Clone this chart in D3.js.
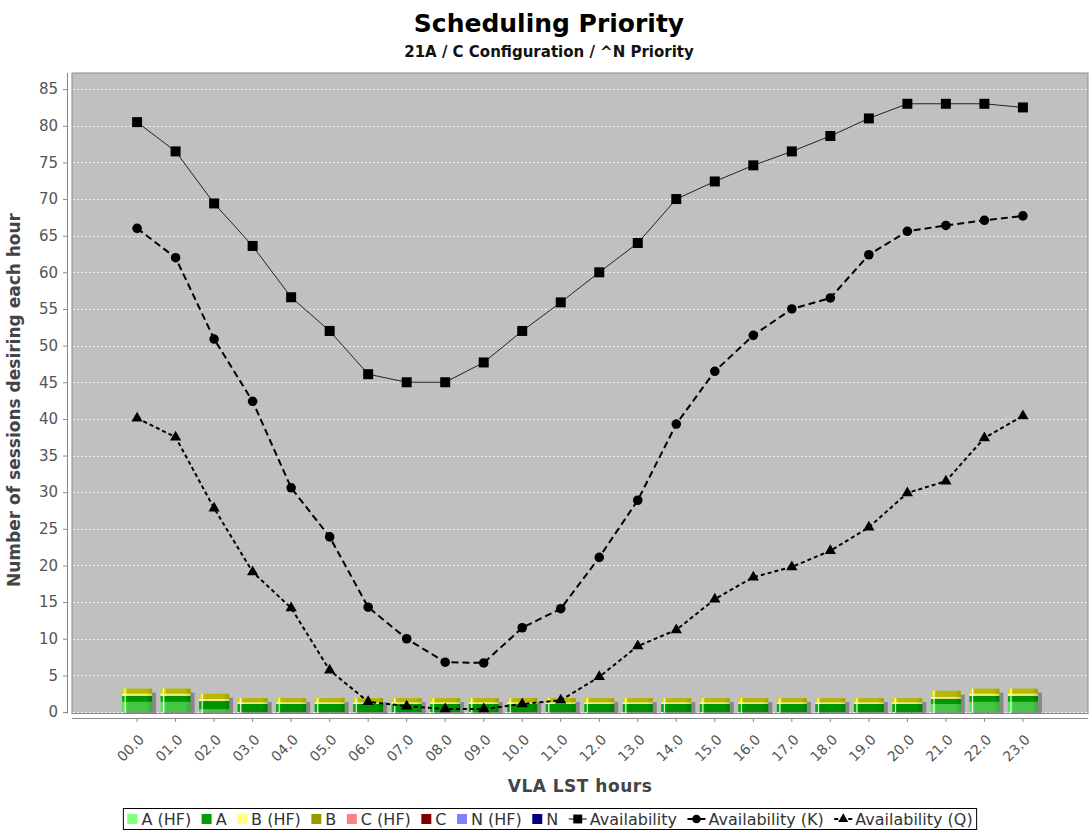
<!DOCTYPE html>
<html>
<head>
<meta charset="utf-8">
<script src="https://cdn.jsdelivr.net/npm/d3@7"></script>
<style>
  body { margin: 0; background: #fff; }
  text { font-family: "DejaVu Sans", sans-serif; }
</style>
</head>
<body>
<svg id="chart"></svg>
<script>
// categories
const hours = ['00.0','01.0','02.0','03.0','04.0','05.0','06.0','07.0','08.0','09.0','10.0','11.0',
               '12.0','13.0','14.0','15.0','16.0','17.0','18.0','19.0','20.0','21.0','22.0','23.0']

// stacked bar series (sessions per hour)
const aHF = [1.4,1.4,0.4,0,0,0,0,0,0,0,0,0,0,0,0,0,0,0,0,0,0,1.1,1.4,1.4]
const aN  = [0.8,0.8,1.1,1.1,1.1,1.1,1.1,1.1,1.1,1.1,1.1,1.1,1.1,1.1,1.1,1.1,1.1,1.1,1.1,1.1,1.1,0.7,0.8,0.8]
const bHF = [0.35,0.35,0.3,0.25,0.25,0.25,0.25,0.25,0.25,0.25,0.25,0.25,0.25,0.25,0.25,0.25,0.25,0.25,0.25,0.25,0.25,0.3,0.35,0.35]
const bN  = [0.65,0.65,0.7,0.55,0.55,0.55,0.55,0.55,0.55,0.55,0.55,0.55,0.55,0.55,0.55,0.55,0.55,0.55,0.55,0.55,0.55,0.8,0.65,0.65]
const cHF = hours.map(() => 0)
const cN  = hours.map(() => 0)
const nHF = hours.map(() => 0)
const nN  = hours.map(() => 0)

// line series
const availability  = [80.5,76.5,69.4,63.6,56.6,52.0,46.1,45.0,45.0,47.7,52.0,55.9,
                       60.0,64.0,70.0,72.4,74.6,76.5,78.6,81.0,83.0,83.0,83.0,82.5]
const availabilityK = [66.0,62.0,50.9,42.4,30.6,23.9,14.3,10.0,6.8,6.7,11.5,14.1,
                       21.1,28.9,39.3,46.5,51.4,55.0,56.5,62.4,65.6,66.4,67.1,67.7]
const availabilityQ = [40.1,37.5,27.8,19.1,14.2,5.7,1.4,0.8,0.4,0.4,1.1,1.6,
                       4.8,9.0,11.2,15.4,18.4,19.8,22.0,25.2,29.9,31.5,37.4,40.4]

const yTicks = d3.range(0, 90, 5)

const barKeys = ['A (HF)','A','B (HF)','B','C (HF)','C','N (HF)','N']
const barColors = ['#80ff80','#00a000','#ffff80','#9a9a00','#ff8080','#800000','#8080ff','#000080']
const barFills  = ['#44c644','#009400','#f0f070','#b8b800','#ff8080','#800000','#8080ff','#000080']

const width = 1091, height = 837
const plot = {left: 72, right: 1088, top: 73, bottom: 713.5}

const svg = d3.select('#chart').attr('width', width).attr('height', height)
svg.append('rect').attr('width', width).attr('height', height).attr('fill', '#fff')

const x = d3.scaleBand().domain(hours).range([plot.left, plot.right]).paddingOuter(1.19).paddingInner(0)
const y = d3.scaleLinear().domain([-0.2, 87.2]).range([plot.bottom, plot.top])
const cx = d => x(d) + x.bandwidth() / 2

// titles
svg.append('text').attr('x', 549).attr('y', 32).attr('text-anchor', 'middle')
   .attr('font-size', 25).attr('font-weight', 'bold').attr('fill', '#000').text('Scheduling Priority')
svg.append('text').attr('x', 549).attr('y', 57).attr('text-anchor', 'middle')
   .attr('font-size', 15).attr('font-weight', 'bold').attr('fill', '#111').text('21A / C Configuration / ^N Priority')

// plot background
svg.append('rect').attr('x', plot.left).attr('y', plot.top)
   .attr('width', plot.right - plot.left).attr('height', plot.bottom - plot.top)
   .attr('fill', '#c0c0c0').attr('stroke', '#8a8a8a')

svg.append('g').selectAll('line').data(yTicks).join('line')
   .attr('x1', plot.left + 1).attr('x2', plot.right - 1)
   .attr('y1', d => Math.round(y(d)) + 0.5).attr('y2', d => Math.round(y(d)) + 0.5)
   .attr('stroke', '#fff').attr('stroke-opacity', 0.75).attr('stroke-dasharray', '2,2')

// y axis
const yAxis = svg.append('g').attr('transform', 'translate(67,0)')
   .call(d3.axisLeft(y).tickValues(yTicks).tickSize(4).tickPadding(5))
yAxis.select('.domain').attr('stroke', '#888').attr('d', `M0.5,${plot.top}V${plot.bottom}`)
yAxis.selectAll('.tick line').attr('stroke', '#888')
yAxis.selectAll('.tick text').attr('fill', '#555').attr('font-size', 15)
   .attr('font-family', '"DejaVu Sans", sans-serif')

svg.append('text').attr('transform', 'translate(20,400) rotate(-90)').attr('text-anchor', 'middle')
   .attr('font-size', 17).attr('font-weight', 'bold').attr('fill', '#444')
   .text('Number of sessions desiring each hour')

// x axis
const xAxis = svg.append('g').attr('transform', 'translate(0,718)')
   .call(d3.axisBottom(x).tickSize(4).tickSizeOuter(0).tickFormat(() => ''))
xAxis.select('.domain').attr('stroke', '#888').attr('d', `M${plot.left},0.5H${plot.right}`)
xAxis.selectAll('.tick line').attr('stroke', '#888')

svg.append('g').selectAll('text').data(hours).join('text')
   .attr('transform', d => `translate(${cx(d) + 4.5},${737}) rotate(-45)`)
   .attr('text-anchor', 'end').attr('dy', '0.35em')
   .attr('font-size', 14).attr('fill', '#555').text(d => d)

svg.append('text').attr('x', 580).attr('y', 792).attr('text-anchor', 'middle')
   .attr('font-size', 17).attr('font-weight', 'bold').attr('fill', '#444')
   .attr('letter-spacing', 0.5).text('VLA LST hours')

// bar gradients (highlight line on the left, darker edge on the right)
const defs = svg.append('defs')
barFills.forEach((c, i) => {
  const g = defs.append('linearGradient').attr('id', 'grad' + i).attr('x1', 0).attr('x2', 1).attr('y1', 0).attr('y2', 0)
  const col = d3.color(c)
  g.append('stop').attr('offset', 0).attr('stop-color', col.brighter(0.3))
  g.append('stop').attr('offset', 0.07).attr('stop-color', col.brighter(0.6))
  g.append('stop').attr('offset', 0.1).attr('stop-color', '#ffffff')
  g.append('stop').attr('offset', 0.14).attr('stop-color', col.brighter(0.3))
  g.append('stop').attr('offset', 0.2).attr('stop-color', c)
  g.append('stop').attr('offset', 0.8).attr('stop-color', c)
  g.append('stop').attr('offset', 1).attr('stop-color', col.darker(0.4))
})
defs.append('clipPath').attr('id', 'plotClip').append('rect')
   .attr('x', plot.left).attr('y', plot.top).attr('width', plot.right - plot.left).attr('height', plot.bottom - plot.top)

const barSeries = [aHF, aN, bHF, bN, cHF, cN, nHF, nN]
const table = hours.map((h, i) => {
  const row = {hour: h}
  barKeys.forEach((k, j) => row[k] = barSeries[j][i])
  return row
})
const stacked = d3.stack().keys(barKeys)(table)
const barW = 30

const bars = svg.append('g').attr('clip-path', 'url(#plotClip)')
bars.selectAll('rect.shadow').data(table).join('rect').attr('class', 'shadow')
   .attr('x', d => cx(d.hour) - barW / 2 + 4).attr('width', barW)
   .attr('y', d => y(d3.sum(barKeys, k => d[k])) + 4)
   .attr('height', d => plot.bottom - y(d3.sum(barKeys, k => d[k])))
   .attr('fill', '#707070').attr('opacity', 0.7)

stacked.forEach((s, i) => {
  bars.append('g').selectAll('rect').data(s.filter(d => d[1] > d[0])).join('rect')
     .attr('x', d => cx(d.data.hour) - barW / 2).attr('width', barW)
     .attr('y', d => y(d[1])).attr('height', d => y(d[0]) - y(d[1]))
     .attr('fill', `url(#grad${i})`)
})

// lines
const lineSpecs = [
  {name: 'Availability', values: availability, dash: null, width: 1, shape: d3.symbolSquare, size: 100},
  {name: 'Availability (K)', values: availabilityK, dash: '7,4', width: 2, shape: d3.symbolCircle, size: 72},
  {name: 'Availability (Q)', values: availabilityQ, dash: '4,3', width: 2, shape: d3.symbolTriangle, size: 55}
]
const line = d3.line().x((d, i) => cx(hours[i])).y(d => y(d))
lineSpecs.forEach(s => {
  svg.append('path').datum(s.values).attr('d', line).attr('fill', 'none')
     .attr('stroke', s.width === 1 ? '#222' : '#000').attr('stroke-width', s.width)
     .attr('stroke-dasharray', s.dash)
  svg.append('g').selectAll('path').data(s.values).join('path')
     .attr('transform', (d, i) => `translate(${cx(hours[i])},${y(d)})`)
     .attr('d', d3.symbol(s.shape, s.size)).attr('fill', '#000')
})

// legend
const ly = 819
const legendBox = svg.append('rect').attr('y', ly - 10.5).attr('height', 21)
   .attr('fill', '#fff').attr('stroke', '#000')
const legend = svg.append('g')
let lx = 0
barKeys.forEach((k, i) => {
  legend.append('rect').attr('x', lx).attr('y', ly - 5).attr('width', 10).attr('height', 10).attr('fill', barColors[i])
  const t = legend.append('text').attr('x', lx + 14).attr('y', ly + 5.5).attr('font-size', 16).attr('fill', '#333').text(k)
  lx += 14 + t.node().getComputedTextLength() + 10.5
})
lineSpecs.forEach(s => {
  legend.append('line').attr('x1', lx).attr('x2', lx + 18).attr('y1', ly).attr('y2', ly)
     .attr('stroke', '#000').attr('stroke-width', s.width).attr('stroke-dasharray', s.dash)
  legend.append('path').attr('transform', `translate(${lx + 9},${ly})`).attr('d', d3.symbol(s.shape, s.size * 0.8))
  const t = legend.append('text').attr('x', lx + 21).attr('y', ly + 5.5).attr('font-size', 16).attr('fill', '#333').text(s.name)
  lx += 21 + t.node().getComputedTextLength() + 10.5
})
const legendW = lx - 6.5
const legendX = 548 - legendW / 2
legend.attr('transform', `translate(${legendX + 4},0)`)
legendBox.attr('x', legendX).attr('width', legendW + 4)
</script>
</body>
</html>
